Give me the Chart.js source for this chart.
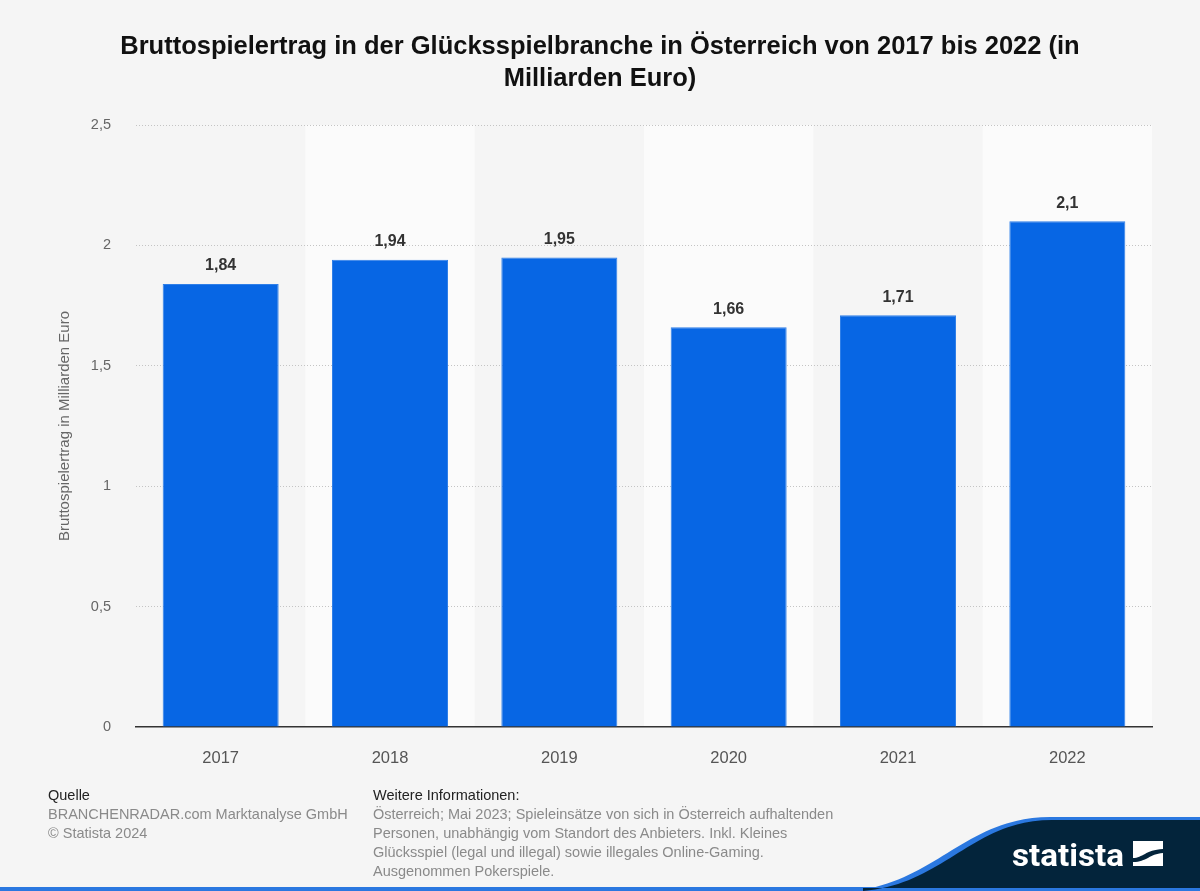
<!DOCTYPE html>
<html>
<head>
<meta charset="utf-8">
<script src="https://cdn.jsdelivr.net/npm/chart.js@4"></script>
<style>
  html, body { margin: 0; padding: 0; background: #f5f5f5; }
  body { width: 1200px; height: 891px; position: relative; overflow: hidden; font-family: "Liberation Sans", Arial, sans-serif; }
  #title { position: absolute; left: 0; top: 29px; width: 1200px; text-align: center; font-weight: bold; font-size: 25.5px; line-height: 32px; color: #111111; }
  #wrap { position: absolute; left: 0; top: 0; width: 1200px; height: 891px; }
  .foot { position: absolute; font-size: 14.5px; line-height: 19px; color: #8a8a8a; }
  .foot b { font-weight: normal; color: #222; }
  #logo { position: absolute; left: 0; top: 0; }
</style>
</head>
<body>
<div id="wrap"><canvas id="c" width="1200" height="891"></canvas></div>
<div id="title">Bruttospielertrag in der Glücksspielbranche in Österreich von 2017 bis 2022 (in<br>Milliarden Euro)</div>
<div class="foot" style="left:48px; top:786px;"><b>Quelle</b><br>BRANCHENRADAR.com Marktanalyse GmbH<br>© Statista 2024</div>
<div class="foot" style="left:373px; top:786px;"><b>Weitere Informationen:</b><br>Österreich; Mai 2023; Spieleinsätze von sich in Österreich aufhaltenden<br>Personen, unabhängig vom Standort des Anbieters. Inkl. Kleines<br>Glücksspiel (legal und illegal) sowie illegales Online-Gaming.<br>Ausgenommen Pokerspiele.</div>
<svg id="logo" width="1200" height="891" viewBox="0 0 1200 891">
  <rect x="0" y="887" width="1200" height="4" fill="#2b78e0"/>
  <path d="M 850 891 C 935 884, 965 817, 1050 817 L 1200 817 L 1200 891 Z" fill="#2b78e0"/>
  <path d="M 863 891 C 945 884, 972 820, 1052 820 L 1200 820 L 1200 888 L 863 888 Z" fill="#03243b"/>
  <text x="1012" y="866" fill="#ffffff" font-family="Roboto, 'Liberation Sans', sans-serif" font-weight="bold" font-size="31" textLength="112" lengthAdjust="spacingAndGlyphs">statista</text>
  <rect x="1133" y="841" width="30" height="25" fill="#ffffff"/>
  <path d="M 1133 858 C 1143 858, 1145 850, 1163 849 L 1163 853 C 1149 854, 1147 862, 1133 862 Z" fill="#03243b"/>
</svg>
<script>
const categories = ["2017", "2018", "2019", "2020", "2021", "2022"];
const values = [1.84, 1.94, 1.95, 1.66, 1.71, 2.1];
const yTicks = [0, 0.5, 1, 1.5, 2, 2.5];
const yTitle = "Bruttospielertrag in Milliarden Euro";

const fmt = v => String(v).replace('.', ',');

const bandPlugin = {
  id: 'bands',
  beforeDraw(chart) {
    const {ctx, chartArea, scales} = chart;
    const x = scales.x;
    const n = categories.length;
    const w = (chartArea.right - chartArea.left) / n;
    ctx.save();
    for (let i = 0; i < n; i++) {
      if (i % 2 === 1) {
        const cx = x.getPixelForValue(i);
        ctx.fillStyle = '#fbfbfb';
        ctx.fillRect(cx - w / 2, chartArea.top, w, chartArea.bottom - chartArea.top);
      }
    }
    ctx.restore();
  }
};

const labelPlugin = {
  id: 'vlabels',
  afterDatasetsDraw(chart) {
    const {ctx} = chart;
    const meta = chart.getDatasetMeta(0);
    ctx.save();
    ctx.font = 'bold 16px "Liberation Sans", Arial, sans-serif';
    ctx.fillStyle = '#333333';
    ctx.textAlign = 'center';
    ctx.textBaseline = 'middle';
    meta.data.forEach((bar, i) => {
      ctx.fillText(fmt(values[i]), bar.x, bar.y - 18);
    });
    ctx.restore();
  }
};

new Chart(document.getElementById('c'), {
  type: 'bar',
  data: {
    labels: categories,
    datasets: [{
      data: values,
      backgroundColor: '#0766e4',
      borderColor: '#2f7fe8',
      borderWidth: 1,
      barPercentage: 0.685,
      categoryPercentage: 1.0
    }]
  },
  plugins: [bandPlugin, labelPlugin],
  options: {
    responsive: false,
    animation: false,
    devicePixelRatio: 1,
    layout: { padding: { left: 50, right: 48, top: 125, bottom: 124 } },
    plugins: { legend: { display: false }, tooltip: { enabled: false }, title: { display: false } },
    scales: {
      x: {
        grid: { display: false },
        border: { display: true, color: '#333333', width: 1.5 },
        ticks: { color: '#555555', font: { size: 16.5, family: '"Liberation Sans", Arial, sans-serif' }, padding: 14 },
        afterFit(s) { s.height = 40; }
      },
      y: {
        min: 0, max: 2.5,
        afterBuildTicks(s) { s.ticks = yTicks.map(v => ({ value: v })); },
        grid: {
          drawTicks: false,
          color: ctx => ctx.tick && ctx.tick.value === 0 ? 'rgba(0,0,0,0)' : '#c4c4c4',
          lineWidth: 1
        },
        border: { display: false, dash: [1, 2] },
        ticks: {
          color: '#666666',
          font: { size: 14.5, family: '"Liberation Sans", Arial, sans-serif' },
          padding: 25,
          callback: v => fmt(v)
        },
        title: {
          display: true,
          text: yTitle,
          color: '#666666',
          font: { size: 15, family: '"Liberation Sans", Arial, sans-serif' },
          padding: { top: 6, bottom: 0 }
        },
        afterFit(s) { s.width = 86; }
      }
    }
  }
});
</script>
</body>
</html>
